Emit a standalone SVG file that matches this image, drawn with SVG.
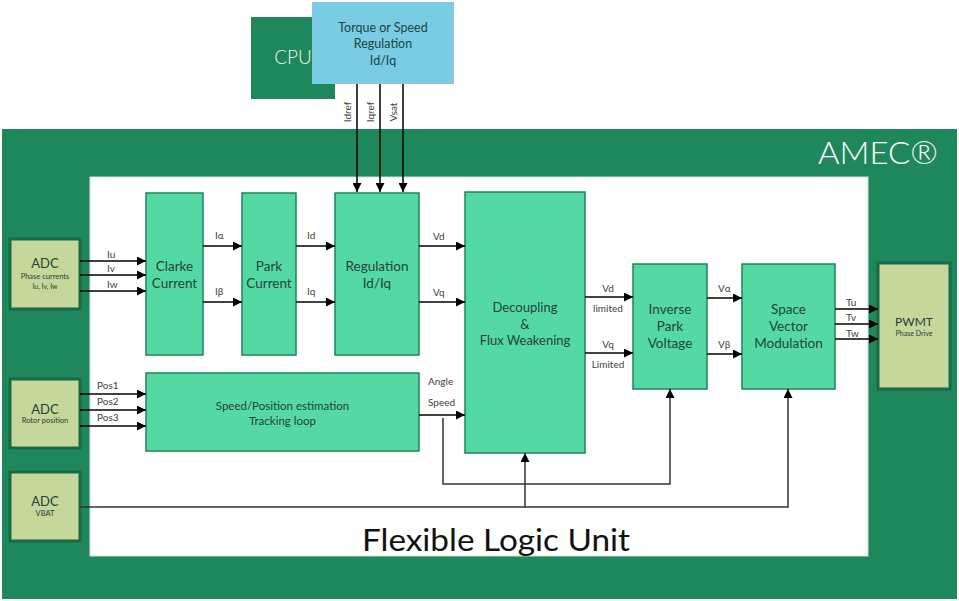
<svg xmlns="http://www.w3.org/2000/svg" width="959" height="601" viewBox="0 0 959 601">
  <defs>
    <marker id="arrow" viewBox="0 0 10 10" refX="10" refY="5" markerWidth="9" markerHeight="9" markerUnits="userSpaceOnUse" orient="auto">
      <path d="M0,0 L10,5 L0,10 z" fill="#000"/>
    </marker>
    <style>
      .blk { fill: #55D9A4; stroke: #1E8556; stroke-width: 1.5; }
      .adc { fill: #C6D79B; stroke: #1A6B45; stroke-width: 3; }
      .ttl { font-family: Lato, "Noto Sans", sans-serif; fill: #22433A; text-anchor: middle; }
      .lbl { font-family: Lato, "Noto Sans", sans-serif; font-size: 10px; fill: #404040; }
      .mid { text-anchor: middle; }
      .wire { fill: none; stroke: #000; stroke-width: 1.5; }
      .bus { fill: none; stroke: #333; stroke-width: 1.5; }
      .thin { font-family: Lato, "Noto Sans", sans-serif; font-weight: 300; }
    </style>
  </defs>

  <rect width="959" height="601" fill="#fff"/>

  <!-- AMEC frame -->
  <g id="amec">
    <rect x="2" y="129" width="955" height="470" fill="#1F875C"/>
    <text class="thin" x="878" y="164" font-size="31" fill="#fff" text-anchor="middle" textLength="120" lengthAdjust="spacingAndGlyphs">AMEC®</text>
  </g>

  <!-- Flexible Logic Unit area -->
  <g id="flu">
    <rect x="90" y="177" width="778" height="379" fill="#fff" stroke="#cfe3d8" stroke-width="1"/>
    <text x="496" y="551" font-family="Lato, 'Noto Sans', sans-serif" font-size="30" fill="#111" text-anchor="middle" textLength="268" lengthAdjust="spacingAndGlyphs">Flexible Logic Unit</text>
  </g>

  <!-- CPU -->
  <g id="cpu">
    <rect x="251" y="17" width="84" height="82" fill="#1F875C"/>
    <text class="thin" x="293" y="64" font-size="19" fill="#E8F5EE" text-anchor="middle">CPU</text>
  </g>

  <!-- Torque / Speed regulation -->
  <g id="torque">
    <rect x="312" y="2" width="142" height="82" fill="#79CCE4"/>
    <text class="ttl" font-size="12.5" fill="#1d2d33"><tspan x="383" y="32">Torque or Speed</tspan><tspan x="383" y="48">Regulation</tspan><tspan x="383" y="65">Id/Iq</tspan></text>
  </g>

  <!-- ADC inputs -->
  <g id="adc-phase">
    <rect class="adc" x="10" y="239" width="70" height="70"/>
    <text class="ttl" font-size="13" x="45" y="268">ADC</text>
    <text class="ttl" font-size="7.5" x="45" y="279">Phase currents</text>
    <text class="ttl" font-size="7" x="45" y="289">Iu, Iv, Iw</text>
  </g>
  <g id="adc-rotor">
    <rect class="adc" x="10" y="379" width="70" height="69"/>
    <text class="ttl" font-size="13" x="45" y="414">ADC</text>
    <text class="ttl" font-size="7.5" x="45" y="423">Rotor position</text>
  </g>
  <g id="adc-vbat">
    <rect class="adc" x="10" y="472" width="70" height="69"/>
    <text class="ttl" font-size="13" x="45" y="506">ADC</text>
    <text class="ttl" font-size="7.5" x="45" y="516">VBAT</text>
  </g>

  <!-- PWMT output -->
  <g id="pwmt">
    <rect x="878" y="263" width="72" height="126" fill="#C6D79B" stroke="#1A6B45" stroke-width="3"/>
    <text class="ttl" font-size="12" x="914" y="326">PWMT</text>
    <text class="ttl" font-size="7" x="914" y="336">Phase Drive</text>
  </g>

  <!-- Processing blocks -->
  <g id="clarke">
    <rect class="blk" x="146" y="193" width="57" height="162"/>
    <text class="ttl" font-size="13.5"><tspan x="174.5" y="271">Clarke</tspan><tspan x="174.5" y="288">Current</tspan></text>
  </g>
  <g id="park">
    <rect class="blk" x="242" y="193" width="54" height="162"/>
    <text class="ttl" font-size="13.5"><tspan x="269" y="271">Park</tspan><tspan x="269" y="288">Current</tspan></text>
  </g>
  <g id="regulation">
    <rect class="blk" x="335" y="193" width="84" height="162"/>
    <text class="ttl" font-size="13.5"><tspan x="377" y="271">Regulation</tspan><tspan x="377" y="288">Id/Iq</tspan></text>
  </g>
  <g id="decoupling">
    <rect class="blk" x="465" y="192" width="120" height="261"/>
    <text class="ttl" font-size="13"><tspan x="525" y="312">Decoupling</tspan><tspan x="525" y="329">&amp;</tspan><tspan x="525" y="345">Flux Weakening</tspan></text>
  </g>
  <g id="estimation">
    <rect class="blk" x="146" y="373" width="273" height="78"/>
    <text class="ttl" font-size="11.5"><tspan x="282.5" y="410">Speed/Position estimation</tspan><tspan x="282.5" y="425">Tracking loop</tspan></text>
  </g>
  <g id="inverse-park">
    <rect class="blk" x="633" y="264" width="74" height="125"/>
    <text class="ttl" font-size="13.5"><tspan x="670" y="314">Inverse</tspan><tspan x="670" y="331">Park</tspan><tspan x="670" y="348">Voltage</tspan></text>
  </g>
  <g id="svm">
    <rect class="blk" x="742" y="264" width="93" height="125"/>
    <text class="ttl" font-size="13.5"><tspan x="788.5" y="314">Space</tspan><tspan x="788.5" y="331">Vector</tspan><tspan x="788.5" y="348">Modulation</tspan></text>
  </g>

  <!-- Connectors -->
  <g id="connectors">
    <!-- references from the regulation loop -->
    <line class="wire" x1="357" y1="84" x2="357" y2="192" marker-end="url(#arrow)"/>
    <line class="wire" x1="380" y1="84" x2="380" y2="192" marker-end="url(#arrow)"/>
    <line class="wire" x1="403" y1="84" x2="403" y2="192" marker-end="url(#arrow)"/>

    <!-- phase currents -->
    <line class="wire" x1="80" y1="261" x2="146" y2="261" marker-end="url(#arrow)"/>
    <line class="wire" x1="80" y1="275" x2="146" y2="275" marker-end="url(#arrow)"/>
    <line class="wire" x1="80" y1="291" x2="146" y2="291" marker-end="url(#arrow)"/>

    <!-- rotor position -->
    <line class="wire" x1="80" y1="394" x2="146" y2="394" marker-end="url(#arrow)"/>
    <line class="wire" x1="80" y1="410" x2="146" y2="410" marker-end="url(#arrow)"/>
    <line class="wire" x1="80" y1="426" x2="146" y2="426" marker-end="url(#arrow)"/>

    <!-- Clarke -> Park -> Regulation -->
    <line class="wire" x1="203" y1="246" x2="242" y2="246" marker-end="url(#arrow)"/>
    <line class="wire" x1="203" y1="302" x2="242" y2="302" marker-end="url(#arrow)"/>
    <line class="wire" x1="296" y1="246" x2="335" y2="246" marker-end="url(#arrow)"/>
    <line class="wire" x1="296" y1="302" x2="335" y2="302" marker-end="url(#arrow)"/>

    <!-- Regulation -> Decoupling -->
    <line class="wire" x1="419" y1="246" x2="465" y2="246" marker-end="url(#arrow)"/>
    <line class="wire" x1="419" y1="302" x2="465" y2="302" marker-end="url(#arrow)"/>

    <!-- Estimation -> Decoupling -->
    <line class="wire" x1="419" y1="415" x2="465" y2="415" marker-end="url(#arrow)"/>
    <!-- angle to inverse Park -->
    <polyline class="bus" points="443,418 443,484 670,484 670,389" marker-end="url(#arrow)"/>

    <!-- Decoupling -> Inverse Park -->
    <line class="wire" x1="585" y1="297" x2="633" y2="297" marker-end="url(#arrow)"/>
    <line class="wire" x1="585" y1="353" x2="633" y2="353" marker-end="url(#arrow)"/>

    <!-- Inverse Park -> SVM -->
    <line class="wire" x1="707" y1="298" x2="742" y2="298" marker-end="url(#arrow)"/>
    <line class="wire" x1="707" y1="354" x2="742" y2="354" marker-end="url(#arrow)"/>

    <!-- SVM -> PWMT -->
    <line class="wire" x1="835" y1="309" x2="878" y2="309" marker-end="url(#arrow)"/>
    <line class="wire" x1="835" y1="324" x2="878" y2="324" marker-end="url(#arrow)"/>
    <line class="wire" x1="835" y1="339" x2="878" y2="339" marker-end="url(#arrow)"/>

    <!-- battery voltage distribution -->
    <polyline class="bus" points="80,507 788,507 788,389" marker-end="url(#arrow)"/>
    <line class="bus" x1="525" y1="507" x2="525" y2="453" marker-end="url(#arrow)"/>

    <!-- connector labels -->
    <text class="lbl mid" transform="translate(351,112) rotate(-90)">Idref</text>
    <text class="lbl mid" transform="translate(374,112) rotate(-90)">Iqref</text>
    <text class="lbl mid" transform="translate(397,112) rotate(-90)">Vsat</text>

    <text class="lbl" x="107" y="258">Iu</text>
    <text class="lbl" x="107" y="272">Iv</text>
    <text class="lbl" x="107" y="288">Iw</text>

    <text class="lbl" x="97" y="389">Pos1</text>
    <text class="lbl" x="97" y="405">Pos2</text>
    <text class="lbl" x="97" y="421">Pos3</text>

    <text class="lbl" x="215" y="239">Iα</text>
    <text class="lbl" x="215" y="295">Iβ</text>
    <text class="lbl" x="307" y="239">Id</text>
    <text class="lbl" x="307" y="295">Iq</text>

    <text class="lbl" x="433" y="240">Vd</text>
    <text class="lbl" x="433" y="296">Vq</text>

    <text class="lbl" x="428" y="385">Angle</text>
    <text class="lbl" x="428" y="406">Speed</text>

    <text class="lbl mid" x="608" y="292">Vd</text>
    <text class="lbl mid" x="608" y="312">limited</text>
    <text class="lbl mid" x="608" y="348">Vq</text>
    <text class="lbl mid" x="608" y="368">Limited</text>

    <text class="lbl" x="718" y="292">Vα</text>
    <text class="lbl" x="718" y="348">Vβ</text>

    <text class="lbl" x="846" y="306">Tu</text>
    <text class="lbl" x="846" y="321">Tv</text>
    <text class="lbl" x="846" y="337">Tw</text>
  </g>
</svg>
